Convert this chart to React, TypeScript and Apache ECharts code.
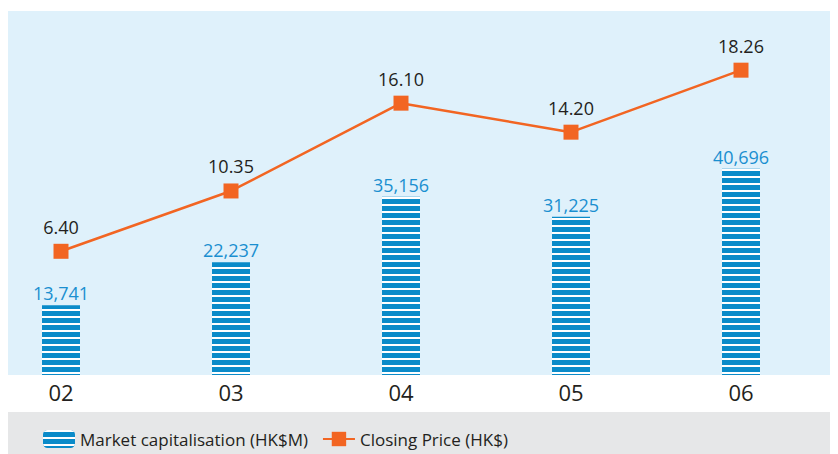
import React, { useEffect, useRef } from "react";
import * as echarts from "echarts";

const years = ["02", "03", "04", "05", "06"];
const marketCap = [13741, 22237, 35156, 31225, 40696];
const closingPrice = [6.4, 10.35, 16.1, 14.2, 18.26];

export default function App() {
  const ref = useRef<HTMLDivElement>(null);
  useEffect(() => {
    if (!ref.current) return;
    const chart = echarts.init(ref.current, null, { renderer: "svg" });
    const font = "'Open Sans', 'Noto Sans', sans-serif";
    chart.setOption({
      animation: false,
      textStyle: { fontFamily: font },
      graphic: [
        { type: "rect", z: -10, shape: { x: 0, y: 3, width: 830, height: 364 }, style: { fill: "#dff1fb" } },
        { type: "rect", z: -10, shape: { x: 0, y: 404, width: 830, height: 42 }, style: { fill: "#e6e7e8" } },
      ],
      legend: {
        left: 30,
        top: 417,
        itemWidth: 32,
        itemHeight: 18,
        itemGap: 14,
        textStyle: { fontSize: 17, color: "#231f20", fontFamily: font },
        data: ["Market capitalisation (HK$M)", "Closing Price (HK$)"],
      },
      grid: { left: 53, right: 97, top: 2, bottom: 79 },
      xAxis: {
        type: "category",
        data: years,
        boundaryGap: false,
        axisLine: { show: false },
        axisTick: { show: false },
        axisLabel: { fontSize: 22, color: "#231f20", margin: 6, fontFamily: font },
      },
      yAxis: [
        { type: "value", min: 0, max: 72000, show: false, splitLine: { show: false } },
        { type: "value", min: -1.7, max: 22.2, show: false, splitLine: { show: false } },
      ],
      series: [
        {
          name: "Market capitalisation (HK$M)",
          type: "bar",
          data: marketCap,
          barWidth: 38,
          yAxisIndex: 0,
          itemStyle: {
            color: "#0a8bc9",
            decal: {
              symbol: "rect",
              symbolSize: 1,
              color: "#ffffff",
              dashArrayX: [1, 0],
              dashArrayY: [1.3, 4.2],
              rotation: 0,
            },
          },
          label: {
            show: true,
            position: "top",
            distance: 3,
            fontSize: 18,
            color: "#1a8fd0",
            fontFamily: font,
            formatter: (p: any) => p.value.toLocaleString("en-US"),
          },
        },
        {
          name: "Closing Price (HK$)",
          type: "line",
          data: closingPrice,
          yAxisIndex: 1,
          symbol: "rect",
          symbolSize: 15,
          lineStyle: { color: "#f26522", width: 2.5 },
          itemStyle: { color: "#f26522" },
          label: {
            show: true,
            position: "top",
            distance: 8,
            fontSize: 18,
            color: "#231f20",
            fontFamily: font,
            formatter: (p: any) => p.value.toFixed(2),
          },
        },
      ],
    });
    return () => chart.dispose();
  }, []);
  return <div ref={ref} style={{ width: 830, height: 446 }} />;
}
